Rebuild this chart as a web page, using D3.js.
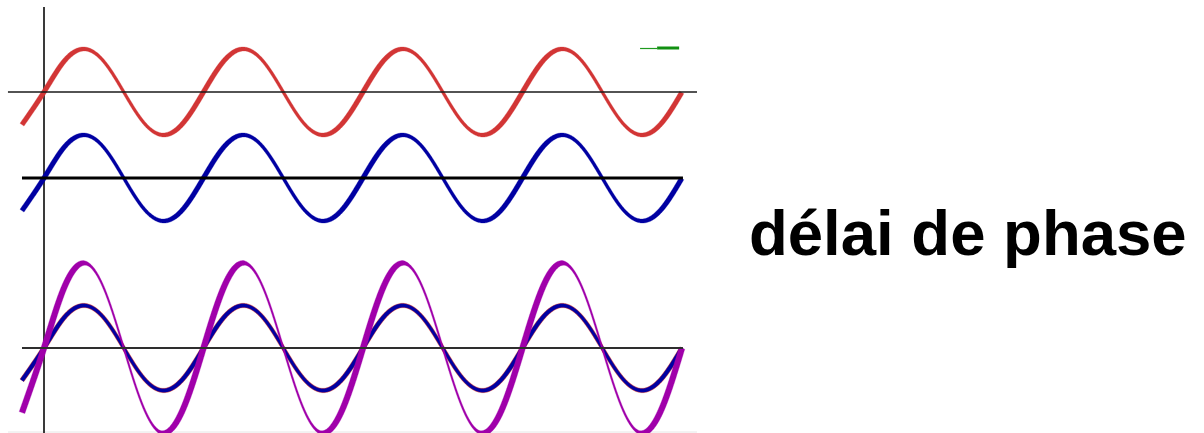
<!DOCTYPE html>
<html>
<head>
<meta charset="utf-8">
<script src="https://cdn.jsdelivr.net/npm/d3@7"></script>
<style>
  html, body { margin: 0; padding: 0; background: #fff; }
  svg { display: block; }
</style>
</head>
<body>
<svg id="chart" width="1204" height="433"></svg>
<script>
// Time, in periods of the oscillation
const tPts = [-0.138,
  0, 0.125, 0.25, 0.375, 0.5, 0.625, 0.75, 0.875,
  1, 1.125, 1.25, 1.375, 1.5, 1.625, 1.75, 1.875,
  2, 2.125, 2.25, 2.375, 2.5, 2.625, 2.75, 2.875,
  3, 3.125, 3.25, 3.375, 3.5, 3.625, 3.75, 3.875,
  4];

// First wave (top panel)
const redTop = [-0.76,
  0, 0.71, 1, 0.71, 0, -0.71, -1, -0.71,
  0, 0.71, 1, 0.71, 0, -0.71, -1, -0.71,
  0, 0.71, 1, 0.71, 0, -0.71, -1, -0.71,
  0, 0.71, 1, 0.71, 0, -0.71, -1, -0.71,
  0];

// Second wave (middle panel)
const blueMid = [-0.76,
  0, 0.71, 1, 0.71, 0, -0.71, -1, -0.71,
  0, 0.71, 1, 0.71, 0, -0.71, -1, -0.71,
  0, 0.71, 1, 0.71, 0, -0.71, -1, -0.71,
  0, 0.71, 1, 0.71, 0, -0.71, -1, -0.71,
  0];

// Both waves overlaid in the bottom panel, and their sum
const redLow = [-0.76,
  0, 0.71, 1, 0.71, 0, -0.71, -1, -0.71,
  0, 0.71, 1, 0.71, 0, -0.71, -1, -0.71,
  0, 0.71, 1, 0.71, 0, -0.71, -1, -0.71,
  0, 0.71, 1, 0.71, 0, -0.71, -1, -0.71,
  0];
const blueLow = [-0.76,
  0, 0.71, 1, 0.71, 0, -0.71, -1, -0.71,
  0, 0.71, 1, 0.71, 0, -0.71, -1, -0.71,
  0, 0.71, 1, 0.71, 0, -0.71, -1, -0.71,
  0, 0.71, 1, 0.71, 0, -0.71, -1, -0.71,
  0];
const purpleSum = [-1.52,
  0, 1.41, 2, 1.41, 0, -1.41, -2, -1.41,
  0, 1.41, 2, 1.41, 0, -1.41, -2, -1.41,
  0, 1.41, 2, 1.41, 0, -1.41, -2, -1.41,
  0, 1.41, 2, 1.41, 0, -1.41, -2, -1.41,
  0];

const title = "délai de phase";

const svg = d3.select("#chart");
svg.append("rect").attr("width", 1204).attr("height", 433).attr("fill", "#fff");

const x = d3.scaleLinear().domain([0, 4]).range([44, 682]);
const yTop = d3.scaleLinear().domain([-1, 1]).range([135, 49]);
const yMid = d3.scaleLinear().domain([-1, 1]).range([221, 135]);
const yLow = d3.scaleLinear().domain([-1, 1]).range([390.5, 305.5]);

// Draws a curve as a ribbon whose width follows the stroke direction:
// wide on rising strokes, medium at crests and troughs, narrow on falling strokes.
function penStroke(g, values, y, color, wRise, wFlat, wFall) {
  const line = d3.line()
    .x((d, i) => x(tPts[i]))
    .y(d => y(d))
    .curve(d3.curveNatural);
  const guide = g.append("path").attr("d", line(values)).attr("fill", "none").attr("stroke", "none");
  const node = guide.node();
  const total = node.getTotalLength();
  const left = [], right = [];
  const step = 0.75;
  for (let l = 0; l <= total + 1e-6; l += step) {
    const L = Math.min(l, total);
    const p = node.getPointAtLength(L);
    const a = node.getPointAtLength(Math.max(0, L - 0.6));
    const b = node.getPointAtLength(Math.min(total, L + 0.6));
    let dx = b.x - a.x, dy = b.y - a.y;
    const len = Math.hypot(dx, dy) || 1;
    dx /= len; dy /= len;
    const s = -dy; // +1 going up, -1 going down
    const w = s >= 0 ? wFlat + (wRise - wFlat) * s : wFlat + (wFlat - wFall) * s;
    const nx = -dy, ny = dx;
    left.push([p.x + nx * w / 2, p.y + ny * w / 2]);
    right.push([p.x - nx * w / 2, p.y - ny * w / 2]);
  }
  guide.remove();
  const outline = left.concat(right.reverse());
  g.append("path")
    .attr("d", d3.line()(outline) + "Z")
    .attr("fill", color)
    .attr("stroke", color)
    .attr("stroke-width", 0.3)
    .attr("stroke-linejoin", "round");
}

function hLine(x1, x2, yy, color, w) {
  svg.append("line")
    .attr("x1", x1).attr("x2", x2)
    .attr("y1", yy).attr("y2", yy)
    .attr("stroke", color).attr("stroke-width", w);
}

// Faint bottom rule
hLine(x(-0.226), x(4.094), 432, "#e6e6e6", 1);

// Vertical axis
svg.append("line")
  .attr("x1", x(0)).attr("x2", x(0))
  .attr("y1", 7).attr("y2", 433)
  .attr("stroke", "#3a3a3a").attr("stroke-width", 2);

// Top panel
const gTop = svg.append("g");
penStroke(gTop, redTop, yTop, "#d23535", 5, 4, 2.8);
hLine(x(-0.226), x(4.094), yTop(0), "#1a1a1a", 1.6);

// Short green trace at the top right
hLine(x(3.737), x(3.844), 48.5, "#1f9a1f", 1.2);
hLine(x(3.844), x(3.982), 48, "#119011", 3);

// Middle panel
const gMid = svg.append("g");
hLine(x(-0.138), x(4.006), yMid(0), "#000", 3);
penStroke(gMid, blueMid, yMid, "#0000a2", 5, 4, 3);

// Bottom panel
const gLow = svg.append("g");
penStroke(gLow, redLow, yLow, "#dd4a3a", 4.8, 4.4, 3.8);
penStroke(gLow, blueLow, yLow, "#0000a2", 4, 3.5, 2.8);
penStroke(gLow, purpleSum, yLow, "#a000aa", 6, 4.8, 1.6);
hLine(x(-0.138), x(4.006), yLow(0), "#2e2e2e", 2);

// Title
svg.append("text")
  .attr("x", 749)
  .attr("y", 255)
  .attr("font-family", "'Liberation Sans', Arial, sans-serif")
  .attr("font-weight", "bold")
  .attr("font-size", 63.5)
  .attr("fill", "#000")
  .text(title);
</script>
</body>
</html>
